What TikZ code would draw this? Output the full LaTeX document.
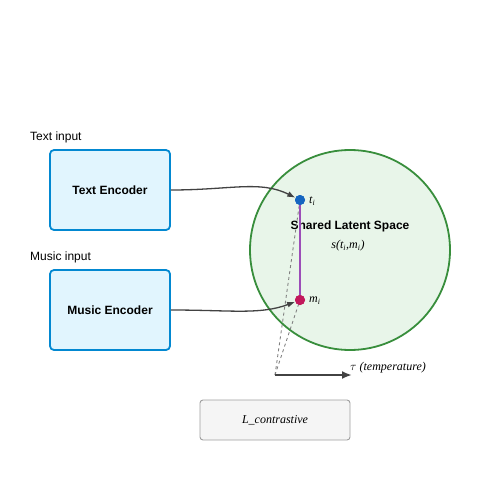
\documentclass[tikz,border=0pt]{standalone}
\usepackage{fontspec}
\setmainfont{Liberation Serif}
\setsansfont{Liberation Sans}
\usetikzlibrary{arrows.meta}
\tikzset{>=latex}
\definecolor{encfill}{HTML}{E1F5FE}
\definecolor{encdraw}{HTML}{0288D1}
\definecolor{latfill}{HTML}{E8F5E9}
\definecolor{latdraw}{HTML}{388E3C}
\definecolor{tcol}{HTML}{1565C0}
\definecolor{mcol}{HTML}{C2185B}
\definecolor{pairline}{HTML}{9C4DB8}
\definecolor{lossfill}{HTML}{F5F5F5}
\definecolor{lossdraw}{HTML}{9E9E9E}
\definecolor{arrowcol}{HTML}{424242}
\tikzset{
    encoder/.style={draw=encdraw,fill=encfill,line width=1.8pt,rounded corners=4pt,
        minimum width=120pt,minimum height=80pt,inner sep=0pt,
        font=\sffamily\bfseries\fontsize{12}{14}\selectfont},
    inputlabel/.style={anchor=base west,inner sep=0pt,font=\sffamily\fontsize{12}{14}\selectfont},
    embed/.style={circle,inner sep=0pt,minimum size=10pt},
    mathlabel/.style={inner sep=0pt,font=\itshape\fontsize{12}{14}\selectfont},
    conn/.style={-{Latex[length=8pt,width=6pt]},draw=arrowcol,line width=1.3pt}
}

\begin{document}
\begin{tikzpicture}[x=1pt,y=-1pt]
    \useasboundingbox (0,0) rectangle (500,500);

    % latent space
    \node[circle,draw=latdraw,fill=latfill,line width=1.8pt,minimum size=200pt,inner sep=0pt]
        (latent) at (350,250) {};
    \node[font=\sffamily\bfseries\fontsize{12}{14}\selectfont,inner sep=0pt] (latentlabel) at (350,226) {Shared Latent Space};
    \node[mathlabel] (simlabel) at (348,246) {s(t\textsubscript{i},m\textsubscript{i})};

    % encoders
    \node[inputlabel] (textin) at (30,140) {Text input};
    \node[encoder] (textenc) at (110,190) {Text Encoder};
    \node[inputlabel] (musicin) at (30,260) {Music input};
    \node[encoder] (musicenc) at (110,310) {Music Encoder};

    % embeddings
    \coordinate (tauorigin) at (275,375);
    \coordinate (tauend) at (352,375);
    \draw[dashed,gray,line width=0.9pt] (tauorigin) -- (300,200);
    \draw[dashed,gray,line width=0.9pt] (tauorigin) -- (300,300);
    \node[embed,fill=tcol] (ti) at (300,200) {};
    \node[embed,fill=mcol] (mi) at (300,300) {};
    \draw[pairline,line width=1.5pt] (ti.center) -- (mi.center);
    \node[embed,fill=tcol] at (ti) {};
    \node[embed,fill=mcol] at (mi) {};
    \node[mathlabel,anchor=west] (tilabel) at (309,201) {t\textsubscript{i}};
    \node[mathlabel,anchor=west] (milabel) at (309,301) {m\textsubscript{i}};

    \draw[conn] (textenc.east) .. controls +(60,0) and +(-40,-20) .. (ti);
    \draw[conn] (musicenc.east) .. controls +(60,0) and +(-40,15) .. (mi);

    % temperature
    \draw[conn,-{Latex[length=10pt,width=8pt]},line width=2pt] (tauorigin) -- (tauend);
    \node[mathlabel,anchor=base west] (taulabel) at (350,370) {$\tau$ (temperature)};

    % loss
    \node[draw=lossdraw,fill=lossfill,rounded corners=3pt,line width=0.9pt,
        minimum width=150pt,minimum height=40pt,inner sep=0pt,mathlabel] (loss) at (275,420) {L\_contrastive};
\end{tikzpicture}
\end{document}
